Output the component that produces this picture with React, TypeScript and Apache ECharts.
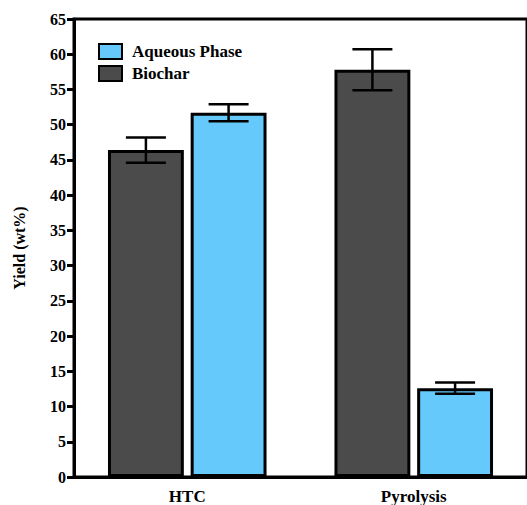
import React, { useEffect, useRef } from "react";
import * as echarts from "echarts";

const categories = ["HTC", "Pyrolysis"];
const biochar = [46.4, 57.8];
const biocharErr = [1.8, 2.9];
const aqueous = [51.7, 12.6];
const aqueousErr = [1.2, 0.8];
const legendOrder = ["Aqueous Phase", "Biochar"];

const FONT = "Liberation Serif, Times New Roman, serif";
const CAT_GAP = 0.3;
const BAR_GAP = 0.09;

function errorSeries(name: string, values: number[], errs: number[], side: number) {
  return {
    type: "custom",
    name: name + " error",
    z: 10,
    silent: true,
    data: values.map((v, i) => [i, v, errs[i]]),
    renderItem: (params: any, api: any) => {
      const idx = api.value(0);
      const v = api.value(1);
      const e = api.value(2);
      const band = api.size([1, 0])[0];
      const bw = (band * (1 - CAT_GAP)) / (2 + BAR_GAP);
      const off = (side * bw * (1 + BAR_GAP)) / 2;
      const hi = api.coord([idx, v + e]);
      const lo = api.coord([idx, v - e]);
      const x = hi[0] + off;
      const cap = 20;
      const style = { stroke: "#000", lineWidth: 2.5 };
      return {
        type: "group",
        children: [
          { type: "line", shape: { x1: x, y1: hi[1], x2: x, y2: lo[1] }, style },
          { type: "line", shape: { x1: x - cap, y1: hi[1], x2: x + cap, y2: hi[1] }, style },
          { type: "line", shape: { x1: x - cap, y1: lo[1], x2: x + cap, y2: lo[1] }, style },
        ],
      };
    },
  };
}

export default function App() {
  const ref = useRef<HTMLDivElement>(null);
  useEffect(() => {
    const chart = echarts.init(ref.current!, null, { renderer: "svg" });
    chart.setOption({
      animation: false,
      grid: {
        left: 74,
        right: -7,
        top: 19,
        bottom: 26,
        show: true,
        borderColor: "#000",
        borderWidth: 3,
      },
      legend: {
        data: legendOrder,
        orient: "vertical",
        left: 93,
        top: 38,
        itemWidth: 23,
        itemHeight: 15,
        itemGap: 5,
        icon: "rect",
        textStyle: {
          fontFamily: FONT,
          fontWeight: "bold",
          fontSize: 17,
          color: "#000",
          padding: [0, 0, 0, 5],
        },
      },
      xAxis: {
        type: "category",
        data: categories,
        axisLine: { lineStyle: { color: "#000", width: 3 } },
        axisTick: { alignWithLabel: true, length: 6, lineStyle: { color: "#000", width: 3 } },
        axisLabel: { fontFamily: FONT, fontWeight: "bold", fontSize: 17, color: "#000", margin: 11 },
      },
      yAxis: {
        type: "value",
        min: 0,
        max: 65,
        interval: 5,
        name: "Yield (wt%)",
        nameLocation: "middle",
        nameGap: 47,
        nameRotate: 90,
        nameTextStyle: { fontFamily: FONT, fontWeight: "bold", fontSize: 16, color: "#000" },
        splitLine: { show: false },
        axisLine: { show: true, lineStyle: { color: "#000", width: 3 } },
        axisTick: { show: true, length: 7, lineStyle: { color: "#000", width: 3 } },
        axisLabel: { fontFamily: FONT, fontWeight: "bold", fontSize: 16, color: "#000", margin: 8 },
      },
      series: [
        {
          type: "bar",
          name: "Biochar",
          data: biochar,
          barCategoryGap: "30%",
          barGap: "9%",
          itemStyle: { color: "#4b4b4b", borderColor: "#000", borderWidth: 3 },
        },
        {
          type: "bar",
          name: "Aqueous Phase",
          data: aqueous,
          barCategoryGap: "30%",
          barGap: "9%",
          itemStyle: { color: "#66c9fb", borderColor: "#000", borderWidth: 3 },
        },
        errorSeries("Biochar", biochar, biocharErr, -1),
        errorSeries("Aqueous Phase", aqueous, aqueousErr, 1),
      ],
    });
    return () => chart.dispose();
  }, []);
  return (
    <div
      ref={ref}
      style={{ position: "absolute", left: 0, top: 0, width: 527, height: 505 }}
    />
  );
}
